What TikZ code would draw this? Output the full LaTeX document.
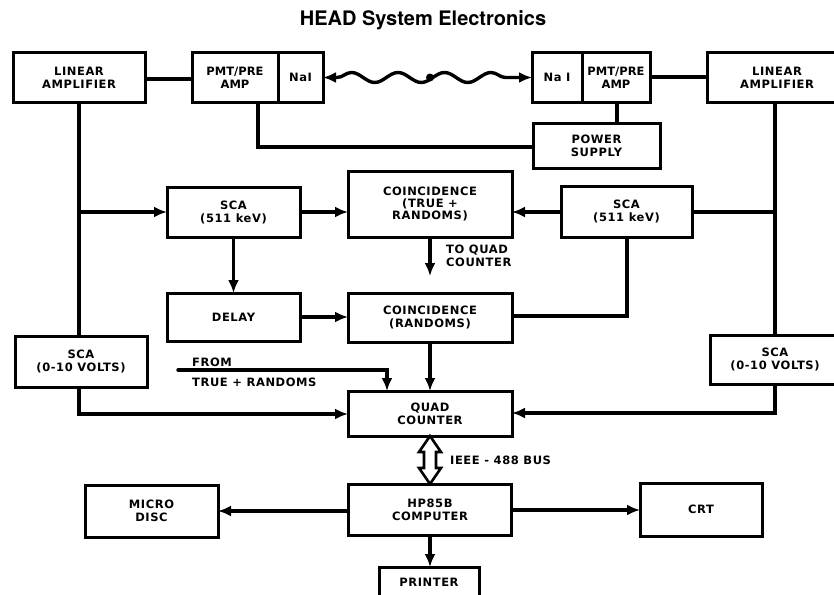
\documentclass[tikz,border=0pt]{standalone}
\usepackage{fontspec}
\newfontfamily\lbl[LetterSpace=5]{DejaVu Sans}
\newfontfamily\lbln{DejaVu Sans}
\newfontfamily\ttl{TeX Gyre Heros}
\usetikzlibrary{arrows.meta,decorations.pathmorphing,calc}
\begin{document}
\begin{tikzpicture}[x=1pt,y=-1pt,
  box/.style={draw, line width=3pt, inner sep=0pt, outer sep=0pt, align=center,
    font=\lbl\bfseries\fontsize{11.5}{13}\selectfont},
  narrow/.style={font=\lbln\bfseries\fontsize{11.5}{13}\selectfont},
  txt/.style={inner sep=0pt, align=left, font=\lbl\bfseries\fontsize{11.5}{13}\selectfont},
  conn/.style={line width=3.4pt},
  arr/.style={conn, -{Latex[length=13pt,width=11pt]}},
  wave/.style={conn, {Latex[length=13pt,width=11pt]}-{Latex[length=13pt,width=11pt]},
    decorate, decoration={snake, amplitude=5pt, segment length=46.5pt, pre length=14pt, post length=14pt}},
  bus/.style={line width=2.6pt, line join=miter}
]
\useasboundingbox (0,0) rectangle (834,594);
\clip (0,0) rectangle (834,594);

% title
\node[inner sep=0pt, anchor=base, font=\ttl\bfseries\fontsize{20}{24}\selectfont] (title) at (423,26) {HEAD System Electronics};

% top row
\node[box, minimum width=132, minimum height=49] (laL) at (79,77.5) {LINEAR\\AMPLIFIER};
\node[box, narrow, minimum width=86, minimum height=49] (pmtL) at (235,77.5) {PMT/PRE\\AMP};
\node[box, minimum width=45, minimum height=49] (naiL) at (300.5,77.5) {NaI};
\node[box, minimum width=50, minimum height=49] (naiR) at (557,77.5) {Na I};
\node[box, narrow, minimum width=68, minimum height=49] (pmtR) at (616,77.5) {PMT/PRE\\AMP};
\node[box, minimum width=140, minimum height=49] (laR) at (777,77.5) {LINEAR\\AMPLIFIER};
\node[box, minimum width=127, minimum height=45] (ps) at (596.5,145.5) {POWER\\SUPPLY};

% middle
\node[box, minimum width=133, minimum height=50] (scaL) at (233.5,212) {SCA\\(511 keV)};
\node[box, minimum width=164, minimum height=66, font=\lbl\bfseries\fontsize{11.5}{11.8}\selectfont] (coin1) at (430,204) {COINCIDENCE\\(TRUE +\\RANDOMS)};
\node[box, minimum width=131, minimum height=51] (scaR) at (626.5,211.5) {SCA\\(511 keV)};
\node[box, minimum width=133, minimum height=48] (delay) at (233.5,317) {DELAY};
\node[box, minimum width=164, minimum height=49] (coin2) at (430,317.5) {COINCIDENCE\\(RANDOMS)};
\node[box, minimum width=132, minimum height=51] (scavL) at (81,361.5) {SCA\\(0-10 VOLTS)};
\node[box, minimum width=130, minimum height=49] (scavR) at (775,359.5) {SCA\\(0-10 VOLTS)};
\node[box, minimum width=164, minimum height=45] (quad) at (430,413.5) {QUAD\\COUNTER};

% bottom
\node[box, minimum width=163, minimum height=51] (comp) at (430,509.5) {HP85B\\COMPUTER};
\node[box, minimum width=133, minimum height=52] (disc) at (151.5,511) {MICRO\\DISC};
\node[box, minimum width=122, minimum height=53] (crt) at (701,509.5) {CRT};
\node[box, minimum width=100, minimum height=30] (printer) at (429,582) {PRINTER};

% free texts
\node[txt, anchor=west] (toq) at (446,255.5) {TO QUAD\\COUNTER};
\node[txt, anchor=base west] (from) at (192,366) {FROM};
\node[txt, anchor=base west] (tr) at (192,386) {TRUE + RANDOMS};
\node[txt, anchor=base west] (bustxt) at (450,464) {IEEE - 488 BUS};

% top connections
\draw[conn] (laL.east |- 0,79) -- (pmtL.west |- 0,79);
\draw[conn] (pmtR.east |- 0,77) -- (laR.west |- 0,77);
\draw[conn] (258,102) -- (258,147) -- (ps.west |- 0,147);
\draw[conn] (ps.north -| 617,0) -- (617,102);
\draw[wave] (naiL.east) -- (naiR.west);
\node[circle, fill, inner sep=0pt, minimum size=8pt] (dot) at (430,77.5) {};

% left chain
\draw[conn] (laL.south) -- (laL.south |- scavL.north);
\draw[arr] (laL.south |- scaL.west) -- (scaL.west);
\draw[arr] (scaL.east) -- (coin1.west |- scaL.east);
\draw[arr] (scaL.south) -- (delay.north);
\draw[arr] (delay.east) -- (coin2.west |- delay.east);

% right chain
\draw[conn] (laR.south -| 775,0) -- (scavR.north);
\draw[conn] (775,212) -- (scaR.east |- 0,212);
\draw[arr] (scaR.west |- 0,212) -- (coin1.east |- 0,212);
\draw[conn] (scaR.south -| 627,0) -- (627,316) -- (coin2.east |- 0,316);

% to quad
\coordinate (toqend) at (430,276);
\draw[arr] (coin1.south) -- (toqend);
\draw[arr] (coin2.south) -- (quad.north);
\coordinate (fromstart) at (178,370);
\coordinate (fromturn) at (387,370);
\draw[arr, line cap=round] (fromstart) -- (fromturn) -- (fromturn |- quad.north);
\draw[arr] (scavL.south -| 79,0) -- (79,414) -- (quad.west |- 0,414);
\draw[arr] (scavR.south) -- (775,413) -- (quad.east |- 0,413);

% bus
\draw[bus] (quad.south) -- ++(-11,16) -- ++(5,0) -- ($(comp.north)+(-6,-16)$) -- ++(-5,0)
  -- (comp.north) -- ++(11,-16) -- ++(-5,0) -- ($(quad.south)+(6,16)$) -- ++(5,0) -- cycle;

% computer outputs
\draw[arr] (comp.west |- 0,511) -- (disc.east |- 0,511);
\draw[arr] (comp.east |- 0,510) -- (crt.west |- 0,510);
\draw[arr] (comp.south) -- (printer.north -| comp.south);
\end{tikzpicture}
\end{document}
